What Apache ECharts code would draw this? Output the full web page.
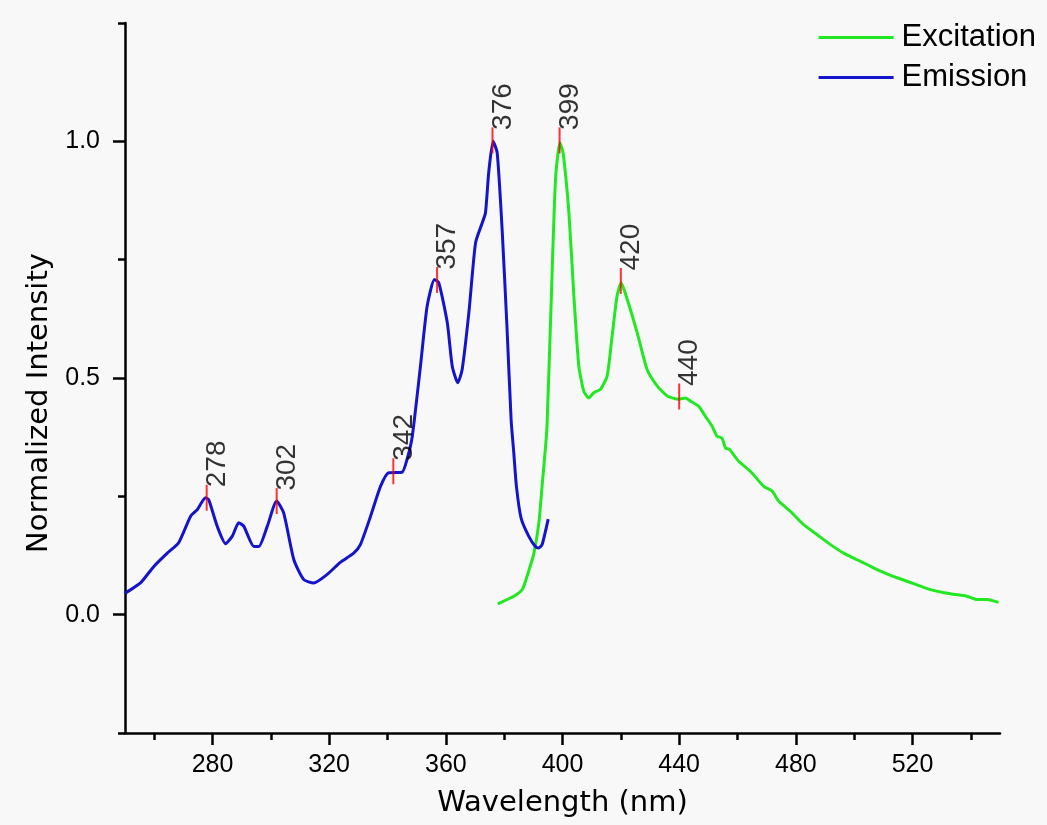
<!DOCTYPE html>
<html>
<head>
<meta charset="utf-8">
<script src="https://cdn.jsdelivr.net/npm/echarts@6/dist/echarts.min.js"></script>
<style>
html,body{margin:0;padding:0;background:#f8f8f8;}
#chart{width:1047px;height:825px;}
</style>
</head>
<body>
<div id="chart"></div>
<script>
// Emission (blue)
const emWl  = [250.0,250.5,255.3,259.9,264.5,268.4,272.5,274.8,277.6,278.7,281.6,284.5,286.8,289.0,290.7,294.2,295.9,298.8,302.0,304.4,307.9,311.3,314.7,319.3,323.9,328.4,330.7,334.2,337.6,340.4,345.0,346.7,348.5,351.3,353.6,356.1,357.6,360.5,362.2,364.1,365.6,367.9,370.2,372.5,373.6,374.7,376.2,377.6,379.3,381.0,382.4,383.3,384.2,385.8,388.4,390.7,391.9,393.0,395.1];
const emInt = [0.044,0.047,0.067,0.102,0.130,0.152,0.208,0.222,0.247,0.243,0.187,0.150,0.166,0.194,0.187,0.144,0.144,0.187,0.240,0.215,0.116,0.074,0.067,0.085,0.111,0.130,0.148,0.208,0.271,0.300,0.301,0.328,0.377,0.525,0.652,0.708,0.701,0.617,0.525,0.490,0.518,0.638,0.786,0.828,0.849,0.934,1.000,0.976,0.814,0.603,0.410,0.342,0.271,0.204,0.166,0.144,0.141,0.148,0.202];
// Excitation (green)
const exWl  = [377.8,383.3,386.2,388.4,390.2,391.9,393.0,394.2,394.7,396.0,397.6,399.1,400.2,402.2,403.9,405.6,407.3,409.0,410.7,413.0,415.3,417.0,418.7,420.1,422.2,425.6,429.0,432.5,435.9,439.9,442.2,443.9,446.7,449.0,451.3,453.0,454.7,455.9,457.3,460.4,464.4,469.0,471.9,474.1,478.2,482.7,487.3,491.9,496.4,501.0,504.4,509.0,514.7,521.5,526.1,533.0,538.7,542.1,545.5,549.5];
const exInt = [0.023,0.039,0.053,0.092,0.130,0.194,0.271,0.356,0.400,0.638,0.920,0.997,0.976,0.849,0.673,0.525,0.472,0.458,0.469,0.476,0.504,0.588,0.673,0.701,0.666,0.596,0.518,0.483,0.462,0.455,0.458,0.451,0.440,0.419,0.398,0.377,0.373,0.352,0.349,0.324,0.303,0.271,0.261,0.240,0.218,0.190,0.169,0.148,0.130,0.116,0.106,0.092,0.078,0.063,0.053,0.044,0.039,0.032,0.032,0.026];
// Peak markers
const peakWl  = [278,302,342,357,376,399,420,440];
const peakInt = [0.247,0.240,0.303,0.707,1.002,1.002,0.705,0.461];
// Ticks
const xMajor = [280,320,360,400,440,480,520];
const xMinor = [260,300,340,380,420,460,500,540];
const yMajor = [0,0.5,1.0];
const yMinor = [-0.25,0.25,0.75,1.25];

const zip = (a,b) => a.map((v,i)=>[v,b[i]]);
const chart = echarts.init(document.getElementById('chart'), null, {renderer:'canvas'});
const axisFont = 'Liberation Sans';
const titleFont = 'DejaVu Sans';
const XMIN=250, XMAX=550, YMIN=-0.25, YMAX=1.25;

chart.setOption({
  backgroundColor:'#f8f8f8',
  animation:false,
  grid:{left:125,right:47,top:23,bottom:92,containLabel:false},
  legend:{
    orient:'vertical', right:6, top:17, itemWidth:75, itemHeight:3, itemGap:9,
    icon:'rect',
    data:['Excitation','Emission'],
    textStyle:{fontFamily:axisFont,fontSize:31,color:'#000',padding:[0,0,0,3]}
  },
  xAxis:[{
    type:'value', min:XMIN, max:XMAX, position:'bottom',
    name:'Wavelength (nm)', nameLocation:'middle', nameGap:56,
    nameTextStyle:{fontFamily:titleFont,fontSize:29,color:'#000'},
    axisLine:{show:true,onZero:false,lineStyle:{color:'#000',width:2.5}},
    axisTick:{show:true,inside:false,length:12,customValues:xMajor,lineStyle:{color:'#000',width:2.5}},
    axisLabel:{show:true,margin:20,customValues:xMajor,fontFamily:axisFont,fontSize:25,color:'#000'},
    splitLine:{show:false}
  },{
    type:'value', min:XMIN, max:XMAX, position:'bottom',
    axisLine:{show:false,onZero:false},
    axisTick:{show:true,inside:false,length:7,customValues:xMinor,lineStyle:{color:'#000',width:2.5}},
    axisLabel:{show:false},
    splitLine:{show:false}
  }],
  yAxis:[{
    type:'value', min:YMIN, max:YMAX, position:'left',
    name:'Normalized Intensity', nameLocation:'middle', nameGap:67,
    nameTextStyle:{fontFamily:titleFont,fontSize:29,color:'#000',padding:[0,50,0,0]},
    axisLine:{show:true,onZero:false,lineStyle:{color:'#000',width:2.5}},
    axisTick:{show:true,inside:false,length:12,customValues:yMajor,lineStyle:{color:'#000',width:2.5}},
    axisLabel:{show:true,margin:25,customValues:yMajor,formatter:v=>v.toFixed(1),fontFamily:axisFont,fontSize:25,color:'#000'},
    splitLine:{show:false}
  },{
    type:'value', min:YMIN, max:YMAX, position:'left',
    axisLine:{show:false,onZero:false},
    axisTick:{show:true,inside:false,length:7,customValues:yMinor,lineStyle:{color:'#000',width:2.5}},
    axisLabel:{show:false},
    splitLine:{show:false}
  }],
  series:[
    {
      name:'Excitation', type:'line', data:zip(exWl,exInt), symbol:'none', smooth:0.2,
      lineStyle:{color:'#22e822',width:3}, itemStyle:{color:'#22e822'}, z:3
    },
    {
      name:'Emission', type:'line', data:zip(emWl,emInt), symbol:'none', smooth:0.2,
      lineStyle:{color:'#1414cc',width:3}, itemStyle:{color:'#1414cc'}, z:4
    },
    {
      name:'peaks', type:'scatter', data:zip(peakWl,peakInt), symbol:'rect', symbolSize:[2,26],
      itemStyle:{color:'#ff0000'}, z:5, silent:true,
      label:{show:true, formatter:p=>String(p.value[0]), position:[-2.5,2.5], rotate:90,
        align:'left', verticalAlign:'top', fontFamily:axisFont, fontSize:28, color:'#000'}
    }
  ]
});
</script>
</body>
</html>
